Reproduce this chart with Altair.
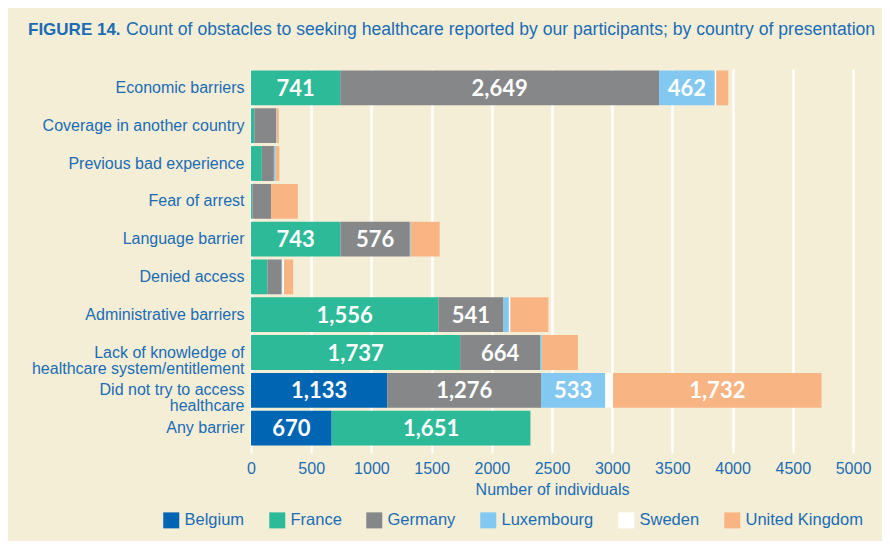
import altair as alt
import pandas as pd

categories = [
    "Economic barriers",
    "Coverage in another country",
    "Previous bad experience",
    "Fear of arrest",
    "Language barrier",
    "Denied access",
    "Administrative barriers",
    "Lack of knowledge of|healthcare system/entitlement",
    "Did  not try to access|healthcare",
    "Any barrier",
]
countries = ["Belgium", "France", "Germany", "Luxembourg", "Sweden", "United Kingdom"]
belgium = [0, 0, 0, 0, 0, 0, 0, 0, 1133, 670]
france = [741, 28, 90, 12, 743, 137, 1556, 1737, 0, 1651]
germany = [2649, 180, 100, 155, 576, 118, 541, 664, 1276, 0]
luxembourg = [462, 5, 14, 0, 8, 5, 45, 14, 533, 0]
sweden = [12, 0, 0, 0, 0, 14, 12, 0, 65, 0]
united_kingdom = [100, 18, 32, 222, 240, 76, 316, 300, 1732, 0]
colors = ["#0066b3", "#2cba98", "#858789", "#82c8f0", "#ffffff", "#f9b483"]

BLUE = "#1a6cb5"
BG = "#f4eed7"

series = [belgium, france, germany, luxembourg, sweden, united_kingdom]
rows = []
for i, cat in enumerate(categories):
    start = 0
    for j, c in enumerate(countries):
        v = series[j][i]
        if v > 0:
            rows.append({"category": cat, "country": c, "value": v, "order": j,
                         "start": start, "end": start + v, "mid": start + v / 2})
        start += v
df = pd.DataFrame(rows)

y_enc = alt.Y("category:N", sort=categories,
              scale=alt.Scale(paddingInner=0.08, paddingOuter=0.04),
              axis=alt.Axis(title=None, labelExpr="split(datum.label, '|')",
                            labelFont="Liberation Sans", labelFontSize=16,
                            labelColor=BLUE, labelLineHeight=16, ticks=False,
                            domain=False, labelPadding=7, labelLimit=300))

x_scale = alt.Scale(domain=[0, 5000], nice=False)

bars = alt.Chart(df).mark_bar().encode(
    x=alt.X("start:Q", scale=x_scale,
            axis=alt.Axis(title="Number of individuals", values=list(range(0, 5001, 500)),
                          format="d", labelFlush=False,
                          grid=True, gridColor="white", gridWidth=2.5,
                          tickColor="white", tickWidth=2, tickSize=6, domain=False,
                          labelFont="Liberation Sans", labelFontSize=16, labelColor=BLUE,
                          labelPadding=7,
                          titleFont="Liberation Sans", titleFontSize=16,
                          titleFontWeight="normal", titleColor=BLUE, titlePadding=5)),
    x2="end:Q",
    y=y_enc,
    color=alt.Color("country:N", scale=alt.Scale(domain=countries, range=colors),
                    legend=alt.Legend(title=None, orient="none", direction="horizontal",
                                      legendX=-88, legendY=443,
                                      symbolType="square",
                                      symbolSize=256, symbolStrokeWidth=0,
                                      symbolOpacity=1,
                                      labelFont="Liberation Sans", labelFontSize=16.5,
                                      labelColor=BLUE, columnPadding=24,
                                      labelOffset=5)),
    order=alt.Order("order:Q"),
)

labels = alt.Chart(df).transform_filter("datum.value >= 400").mark_text(
    color="white", font="Lato", fontWeight="bold", fontSize=22, baseline="middle", dy=1
).encode(
    x=alt.X("mid:Q", scale=x_scale),
    y=alt.Y("category:N", sort=categories),
    text=alt.Text("value:Q", format=","),
)

title_df = pd.DataFrame({"a": ["FIGURE 14."],
                         "b": ["Count of obstacles to seeking healthcare reported by our participants; by country of presentation"]})
t1 = alt.Chart(title_df).mark_text(
    font="Liberation Sans", fontSize=17, fontWeight="bold", color=BLUE, align="left", baseline="middle"
).encode(text="a:N", x=alt.value(-223), y=alt.value(-39))
t2 = alt.Chart(title_df).mark_text(
    font="Liberation Sans", fontSize=17.6, color=BLUE, align="left", baseline="middle"
).encode(text="b:N", x=alt.value(-125), y=alt.value(-39))

chart = alt.layer(bars, labels, t1, t2).properties(
    width=602, height=378,
    autosize=alt.AutoSizeParams(type="none"),
    padding={"left": 243, "top": 61, "right": 29, "bottom": 94},
    background=BG,
).configure_view(stroke=None)

chart.save("out.html", embed_options={"renderer": "svg", "actions": False})
